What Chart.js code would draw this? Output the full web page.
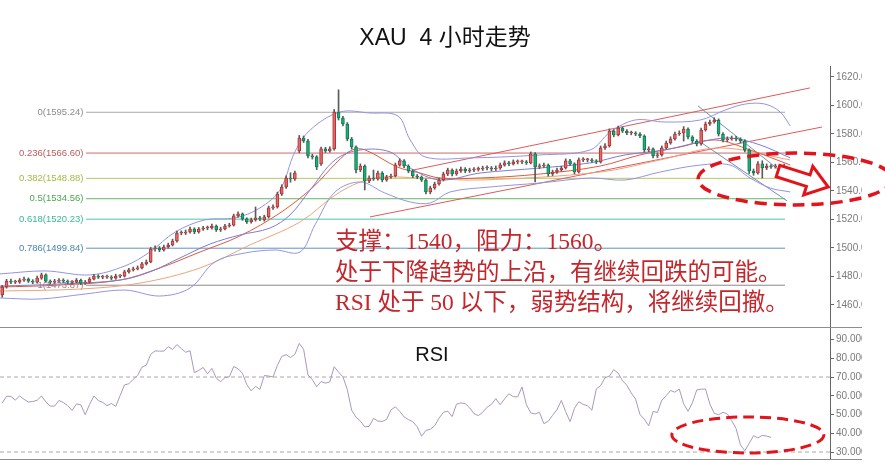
<!DOCTYPE html>
<html>
<head>
<meta charset="utf-8">
<script src="https://cdn.jsdelivr.net/npm/chart.js@4.4.1/dist/chart.umd.min.js"></script>
<style>
  html, body { margin: 0; padding: 0; background: #fff; }
  canvas { display: block; }
</style>
</head>
<body>
<canvas id="xau" width="885" height="476"></canvas>
<script>
// 4H candles (price)
var opens = [
  1467.0,1472.6,1476.8,1476.1,1476.1,1477.5,1478.2,1476.8,1476.1,1478.9,
  1481.1,1476.8,1476.1,1476.8,1477.5,1476.8,1476.1,1476.1,1477.5,1475.4,
  1476.1,1478.2,1480.3,1479.6,1479.6,1479.6,1478.9,1480.3,1480.3,1483.2,
  1484.6,1485.3,1486.0,1488.8,1490.2,1499.3,1500.0,1498.6,1500.7,1502.1,
  1504.9,1510.5,1510.5,1511.2,1513.3,1511.2,1513.3,1514.0,1514.0,1515.4,
  1512.6,1513.3,1515.4,1516.1,1522.5,1523.9,1520.4,1518.3,1519.7,1521.1,
  1519.7,1521.8,1528.1,1528.8,1537.9,1542.8,1549.1,1548.4,1568.1,1577.2,
  1575.1,1564.6,1563.9,1559.0,1569.5,1568.1,1569.5,1595.4,1591.2,1587.0,
  1576.5,1570.9,1554.7,1557.5,1547.0,1549.1,1548.4,1552.6,1547.7,1549.8,
  1550.5,1558.2,1561.1,1557.5,1554.0,1550.5,1549.8,1547.7,1539.3,1542.1,
  1544.9,1547.7,1551.9,1554.7,1551.9,1554.0,1555.4,1554.0,1554.7,1555.2,
  1555.4,1556.1,1556.1,1555.4,1556.1,1558.2,1559.7,1559.0,1560.4,1560.4,
  1560.4,1559.7,1566.0,1556.9,1557.5,1558.2,1551.9,1553.3,1554.7,1556.1,
  1561.1,1559.0,1553.3,1561.8,1561.8,1561.8,1561.1,1560.4,1570.2,1571.6,
  1582.1,1579.3,1584.2,1582.1,1580.7,1580.7,1580.0,1578.6,1568.8,1569.5,
  1564.6,1565.3,1570.2,1573.7,1576.5,1580.0,1580.7,1583.5,1577.9,1575.1,
  1573.0,1582.8,1587.0,1588.4,1589.8,1580.0,1575.8,1576.5,1577.2,1576.5,
  1575.1,1568.8,1554.0,1552.6,1559.0,1556.1,1557.5,1556.9,1557.5,1556.9
];
var closes = [
  1472.6,1476.8,1476.1,1476.1,1477.5,1478.2,1476.8,1476.1,1478.9,1481.1,
  1476.8,1476.1,1476.8,1477.5,1476.8,1476.1,1476.1,1477.5,1475.4,1476.1,
  1478.2,1480.3,1479.6,1479.6,1479.6,1478.9,1480.3,1480.3,1483.2,1484.6,
  1485.3,1486.0,1488.8,1490.2,1499.3,1500.0,1498.6,1500.7,1502.1,1504.9,
  1510.5,1510.5,1511.2,1513.3,1511.2,1513.3,1514.0,1514.0,1515.4,1512.6,
  1513.3,1515.4,1516.1,1522.5,1523.9,1520.4,1518.3,1519.7,1521.1,1520.4,
  1521.8,1528.1,1528.8,1537.9,1542.8,1549.1,1548.4,1552.6,1577.2,1575.1,
  1564.6,1563.9,1556.9,1569.5,1568.1,1569.5,1595.4,1591.2,1587.0,1576.5,
  1570.9,1554.7,1557.5,1547.0,1549.1,1548.4,1552.6,1547.7,1549.8,1550.5,
  1558.2,1561.1,1557.5,1554.0,1550.5,1549.8,1547.7,1539.3,1542.1,1544.9,
  1547.7,1551.9,1554.7,1551.9,1554.0,1555.4,1554.0,1554.7,1555.2,1555.4,
  1556.1,1556.1,1555.4,1556.1,1558.2,1559.7,1559.0,1560.4,1560.4,1560.4,
  1559.7,1566.0,1556.9,1557.5,1558.2,1551.9,1553.3,1554.7,1556.1,1561.1,
  1559.0,1553.3,1561.8,1561.8,1561.8,1561.1,1560.4,1570.2,1571.6,1582.1,
  1579.3,1584.2,1582.1,1580.7,1580.7,1580.0,1578.6,1568.8,1569.5,1564.6,
  1565.3,1570.2,1573.7,1576.5,1580.0,1580.7,1583.5,1577.9,1575.1,1573.0,
  1582.8,1587.0,1588.4,1589.8,1580.0,1575.8,1576.5,1577.2,1576.5,1575.1,
  1568.8,1554.0,1552.6,1559.0,1556.1,1557.5,1556.9,1557.5,1556.9,1557.5
];
var highs = [
  1473.8,1478.0,1478.2,1477.4,1478.6,1479.6,1479.0,1477.8,1480.3,1482.4,
  1481.8,1477.6,1478.0,1478.6,1478.4,1477.6,1477.2,1478.6,1478.2,1477.2,
  1479.2,1481.6,1481.2,1480.8,1481.0,1480.6,1481.6,1481.4,1484.4,1485.8,
  1486.6,1487.4,1490.0,1491.6,1500.4,1501.6,1501.0,1502.0,1503.4,1506.2,
  1511.8,1512.0,1512.6,1514.6,1514.2,1514.4,1515.2,1515.4,1516.8,1516.2,
  1514.6,1516.6,1517.4,1523.8,1525.4,1524.6,1521.2,1521.0,1528.8,1522.2,
  1523.0,1529.4,1530.2,1539.2,1544.4,1550.6,1552.8,1554.0,1579.0,1578.6,
  1576.2,1565.8,1564.8,1570.8,1570.6,1571.0,1597.2,1611.0,1592.4,1588.0,
  1577.6,1571.6,1559.0,1558.4,1550.6,1554.7,1554.0,1553.6,1551.0,1551.8,
  1559.6,1562.6,1562.0,1558.4,1555.0,1551.6,1550.6,1548.6,1543.4,1546.2,
  1549.0,1553.2,1556.0,1555.6,1555.4,1556.8,1556.4,1556.0,1556.4,1556.8,
  1557.4,1557.6,1557.2,1557.6,1559.6,1561.2,1560.8,1561.8,1561.8,1561.6,
  1561.4,1567.4,1567.0,1559.0,1559.6,1559.0,1554.6,1556.0,1557.4,1562.6,
  1562.2,1559.8,1563.2,1563.4,1563.0,1562.8,1562.0,1571.6,1573.2,1583.6,
  1583.0,1585.6,1585.0,1583.0,1582.0,1581.6,1581.0,1579.4,1571.0,1570.2,
  1566.8,1571.6,1575.0,1578.0,1581.4,1582.2,1585.2,1584.4,1578.8,1576.0,
  1584.2,1588.4,1589.8,1591.4,1590.6,1581.0,1578.0,1578.6,1578.4,1577.4,
  1576.0,1569.6,1555.4,1560.6,1561.2,1559.0,1558.6,1558.8,1558.6,1558.8
];
var lows = [
  1465.5,1471.8,1475.0,1475.0,1475.2,1476.6,1475.8,1475.0,1475.4,1478.0,
  1475.8,1474.8,1475.2,1476.0,1475.8,1475.0,1474.8,1475.4,1474.2,1474.4,
  1475.4,1477.6,1478.6,1478.4,1478.6,1477.8,1478.0,1479.2,1479.6,1482.4,
  1483.8,1484.6,1485.4,1488.0,1489.6,1497.8,1497.4,1497.8,1499.8,1501.4,
  1504.0,1509.2,1509.4,1510.4,1510.0,1510.4,1512.4,1512.8,1513.2,1511.6,
  1511.6,1512.6,1514.6,1515.4,1521.6,1519.4,1517.2,1517.4,1518.8,1519.2,
  1518.8,1521.0,1527.0,1528.0,1536.8,1541.8,1546.2,1547.4,1566.8,1574.0,
  1563.2,1562.4,1555.0,1558.0,1567.0,1567.2,1568.6,1589.8,1585.6,1575.2,
  1569.4,1552.6,1553.6,1540.7,1545.8,1547.4,1547.6,1546.4,1546.8,1548.8,
  1549.8,1557.4,1556.4,1552.8,1549.4,1548.6,1546.6,1537.9,1538.0,1541.2,
  1544.0,1547.0,1550.8,1550.6,1551.0,1553.0,1552.8,1553.0,1553.6,1554.0,
  1554.4,1554.8,1554.2,1554.4,1555.2,1557.4,1557.8,1558.2,1559.0,1559.2,
  1558.6,1559.0,1546.3,1555.6,1556.6,1550.4,1550.8,1552.4,1553.8,1555.4,
  1558.0,1552.0,1552.6,1560.6,1560.4,1560.0,1559.2,1559.6,1569.2,1570.8,
  1578.0,1578.6,1581.0,1579.6,1579.4,1578.8,1577.4,1567.4,1567.6,1563.2,
  1563.4,1564.4,1569.4,1572.8,1575.6,1579.0,1575.0,1576.6,1573.8,1571.6,
  1572.2,1582.0,1586.0,1587.6,1578.6,1574.4,1574.6,1575.6,1575.2,1573.8,
  1567.4,1552.2,1551.0,1551.8,1549.1,1555.0,1555.8,1556.0,1555.6,1556.2
];
// RSI, one value per candle
var rsi = [
  56.1,59.8,59.6,57.7,59.9,58.1,56.7,56.9,57.6,59.9,
  56.7,54.5,54.5,57.5,56.4,54.7,52.2,55.6,55.2,49.9,
  55.3,59.9,57.4,56.5,54.7,55.9,54.3,60.1,65.8,66.4,
  68.8,70.8,75.3,76.3,82.1,83.9,83.8,83.8,86.2,84.7,
  87.3,85.2,83.2,84.0,72.3,73.5,75.1,71.7,74.6,69.4,
  67.5,69.7,70.1,75.6,74.4,72.0,65.9,62.6,65.0,63.4,
  70.8,70.5,70.0,76.2,81.0,81.9,80.4,82.1,87.9,84.8,
  71.1,68.6,64.8,67.6,66.7,67.4,75.5,72.6,70.1,63.4,
  52.2,48.6,46.5,43.4,43.7,47.9,46.5,46.3,47.4,52.5,
  54.1,51.7,48.7,47.3,46.1,43.5,38.4,41.5,42.1,44.0,
  48.0,51.2,51.8,48.9,55.5,56.2,55.8,53.6,50.5,49.4,
  51.2,53.9,55.4,58.5,55.2,58.3,61.1,59.5,59.4,64.7,
  55.3,50.8,50.3,51.2,45.1,46.4,49.6,52.6,57.5,51.5,
  46.2,53.3,56.8,55.4,54.6,52.3,63.6,65.5,69.6,70.5,
  73.9,72.1,68.0,65.6,61.5,58.2,50.0,47.5,44.0,51.6,
  51.1,57.7,60.0,62.8,61.9,63.6,55.7,51.7,56.2,63.1,
  63.5,63.6,55.6,50.6,49.9,51.2,50.3,46.7,42.5,33.8,
  30.7,34.6,38.7,37.5,38.9,38.5,37.8,null,null,null
];

// indicator lines, read at key points [candle index, price]
var bbUpper = [[-0.5,1481.8],[9.8,1483.9],[20.1,1481.1],[28.1,1487.4],[33.8,1497.2],[39.6,1511.2],[46.4,1519.7],[53.3,1521.1],[59.0,1528.1],[63.6,1540.7],[67.0,1567.4],[70.5,1582.8],[77.3,1595.4],[84.2,1594.7],[90.6,1592.6],[93.4,1575.8],[96.8,1563.9],[107.1,1563.2],[123.1,1565.3],[134.6,1568.8],[139.2,1581.4],[144.9,1589.8],[151.7,1588.4],[159.8,1589.8],[165.5,1596.8],[170.1,1601.0],[174.6,1601.0],[178.1,1595.4],[180.4,1585.6]];
var bbMiddle = [[-0.5,1473.3],[13.2,1474.7],[27.0,1477.5],[33.8,1483.2],[40.7,1493.0],[47.6,1502.8],[54.4,1509.1],[61.3,1514.0],[65.9,1523.2],[70.5,1540.7],[76.2,1561.8],[82.0,1568.8],[88.8,1567.4],[93.4,1556.1],[100.2,1547.7],[109.4,1552.6],[123.1,1556.1],[134.6,1559.7],[142.6,1565.3],[151.7,1568.8],[159.8,1574.4],[166.6,1577.2],[173.5,1572.3],[180.4,1563.2]];
var bbLower = [[-0.5,1464.9],[8.7,1464.2],[19.0,1467.7],[28.1,1470.5],[36.1,1466.3],[43.0,1471.9],[48.7,1490.2],[55.6,1496.5],[62.5,1498.6],[68.2,1497.2],[71.6,1516.2],[76.2,1539.3],[82.0,1546.3],[87.6,1538.6],[93.4,1532.3],[98.0,1531.6],[102.5,1539.3],[111.7,1542.8],[123.1,1545.6],[134.6,1549.1],[142.6,1547.7],[150.6,1553.3],[159.8,1558.2],[166.6,1558.2],[171.2,1549.1],[175.8,1542.1],[180.4,1539.3]];
var maFast = [[-0.5,1472.6],[13.2,1474.0],[27.0,1477.5],[36.1,1486.0],[45.3,1497.2],[54.4,1508.4],[63.6,1524.6],[71.2,1542.8],[76.7,1560.4],[80.1,1568.8],[83.1,1568.8],[90.4,1556.9],[95.7,1552.6],[100.2,1549.1],[109.4,1549.1],[123.1,1551.9],[136.9,1557.5],[146.0,1565.3],[155.2,1570.9],[163.2,1575.8],[171.2,1568.8],[180.4,1558.2]];
var maSlow = [[-0.5,1469.8],[17.8,1471.2],[31.6,1475.4],[45.3,1486.0],[56.7,1502.1],[68.2,1518.3],[77.3,1539.3],[85.4,1549.1],[95.7,1549.1],[109.4,1547.7],[136.9,1553.3],[150.6,1561.8],[164.3,1570.2],[180.4,1561.8]];

// drawn trend lines [index, price] -> [index, price]
var channelUp = [[94.1,1554.7],[184.9,1612.3]];
var channelLow = [[84.2,1521.8],[187.7,1584.9]];
var fallUp = [[159.3,1599.6],[179.9,1549.8]];
var fallLow = [[159.8,1574.4],[179.7,1533.0]];

// fibonacci retracement
var fibRatios = ['0', '0.236', '0.382', '0.5', '0.618', '0.786', '1'];
var fibPrices = [1595.24, 1566.60, 1548.88, 1534.56, 1520.23, 1499.84, 1473.87];
var fibColors = ['#a8a8a8', '#c86a6a', '#b8c860', '#62b862', '#4cc8a8', '#5a94c4', '#8a8a8a'];
var fibTextColors = ['#8c8c8c', '#b85a5a', '#a8b840', '#4aa84a', '#38b898', '#4a84b4', '#8a8a8a'];
var fibFrom = 19.2, fibTo = 179.2, fibLabelAt = 18.6;

var priceTicks = [1460, 1480, 1500, 1520, 1540, 1560, 1580, 1600, 1620];
var rsiTicks = [30, 40, 50, 60, 70, 80, 90];
var rsiLevels = [70, 30];

var notes = ['支撑：1540，阻力：1560。', '处于下降趋势的上沿，有继续回跌的可能。', 'RSI 处于 50 以下，弱势结构，将继续回撤。'];

// marked areas in data units
var zoneMain = { cx: 181.5, cy: 1548.4, rx: 22.2, ry: 18.2 };
var zoneRsi = { cx: 170.7, cy: 39.1, rx: 17.4, ry: 9.6 };
var arrowFrom = [177.6, 1554.0], arrowTo = [189.1, 1542.8];

var sans = '"Liberation Sans", Arial, "Noto Sans CJK SC", sans-serif';

function pts(list) {
  return list.map(function (p) { return { x: p[0], y: p[1] }; });
}
function lineSet(data, color, extra) {
  return Object.assign({
    type: 'line', data: data, borderColor: color, borderWidth: 1,
    pointRadius: 0, fill: false, yAxisID: 'y', order: 2, tension: 0
  }, extra || {});
}

var upColor = '#e36a6a', upBorder = '#b03434';
var downColor = '#1fae78', downBorder = '#0f7a52';

var bodies = opens.map(function (o, i) { return { x: i, y: [o, closes[i]] }; });
var wicks = lows.map(function (l, i) { return { x: i, y: [l, highs[i]] }; });
var fills = opens.map(function (o, i) { return closes[i] >= o ? upColor : downColor; });
var edges = opens.map(function (o, i) { return closes[i] >= o ? upBorder : downBorder; });

var datasets = [
  { type: 'bar', data: bodies, backgroundColor: fills, borderColor: edges, borderWidth: 1,
    borderSkipped: false, barThickness: 3, minBarLength: 1, grouped: false, yAxisID: 'y', order: 0 },
  { type: 'bar', data: wicks, backgroundColor: '#5a5a5a', barThickness: 1, grouped: false, yAxisID: 'y', order: 1 },
  lineSet(pts(bbUpper), '#9494e0', { tension: 0.35 }),
  lineSet(pts(bbMiddle), '#7c7cd4', { tension: 0.35 }),
  lineSet(pts(bbLower), '#9494e0', { tension: 0.35 }),
  lineSet(pts(maFast), '#e0583e', { tension: 0.35 }),
  lineSet(pts(maSlow), '#f0a27a', { tension: 0.35 }),
  lineSet(pts(channelUp), '#e05a5a'),
  lineSet(pts(channelLow), '#e05a5a'),
  lineSet(pts(fallUp), '#6f8fae'),
  lineSet(pts(fallLow), '#6f8fae')
];
fibPrices.forEach(function (p, k) {
  datasets.push(lineSet([{ x: fibFrom, y: p }, { x: fibTo, y: p }], fibColors[k], { order: 3 }));
});
datasets.push({
  type: 'line', data: rsi.map(function (v, i) { return { x: i, y: v }; }), borderColor: '#a898bc',
  borderWidth: 1, pointRadius: 0, fill: false, yAxisID: 'yRsi', order: 1
});
rsiLevels.forEach(function (v) {
  datasets.push({
    type: 'line', data: [{ x: -0.5, y: v }, { x: 189.5, y: v }], borderColor: '#a8a8a8',
    borderWidth: 1, borderDash: [4, 3], pointRadius: 0, fill: false, yAxisID: 'yRsi', order: 3
  });
});

function ellipse(ctx, chart, z, yId) {
  var xs = chart.scales.x, ys = chart.scales[yId];
  var cx = xs.getPixelForValue(z.cx), cy = ys.getPixelForValue(z.cy);
  var rx = xs.getPixelForValue(z.cx + z.rx) - cx;
  var ry = cy - ys.getPixelForValue(z.cy + z.ry);
  ctx.beginPath();
  ctx.ellipse(cx, cy, rx, ry, 0, 0, Math.PI * 2);
  ctx.stroke();
}

var overlay = {
  id: 'overlay',
  beforeDatasetsDraw: function (chart) {
    var ctx = chart.ctx, xs = chart.scales.x, ys = chart.scales.y, rs = chart.scales.yRsi;
    ctx.save();
    // tick labels are cut off at the picture's edge
    ctx.fillStyle = '#fff';
    ctx.fillRect(862, 0, 30, chart.height);
    ctx.strokeStyle = '#8e8e8e';
    ctx.lineWidth = 1;
    [rs.top, rs.bottom].forEach(function (y) {
      var yy = Math.round(y) + 0.5;
      ctx.beginPath(); ctx.moveTo(0, yy); ctx.lineTo(862, yy); ctx.stroke();
    });
    // fibonacci labels
    ctx.font = '9.5px ' + sans;
    ctx.textAlign = 'right';
    ctx.textBaseline = 'middle';
    var lx = xs.getPixelForValue(fibLabelAt);
    fibPrices.forEach(function (p, k) {
      ctx.fillStyle = fibTextColors[k];
      ctx.fillText(fibRatios[k] + '(' + p.toFixed(2) + ')', lx, ys.getPixelForValue(p));
    });
    ctx.restore();
  },
  afterDraw: function (chart) {
    var ctx = chart.ctx, xs = chart.scales.x, ys = chart.scales.y;
    ctx.save();
    // title
    ctx.fillStyle = '#111';
    ctx.font = '23px ' + sans;
    ctx.textAlign = 'center';
    ctx.textBaseline = 'middle';
    ctx.fillText('XAU  4 小时走势', 445, 39);
    ctx.font = '20px ' + sans;
    ctx.fillText('RSI', 432, 355);
    // comment
    ctx.fillStyle = '#c3262b';
    ctx.font = '23.5px "Liberation Serif", "Noto Sans CJK SC", serif';
    ctx.textAlign = 'left';
    ctx.fillText(notes[0], 335, 243);
    ctx.fillText(notes[1], 335, 273.5);
    ctx.fillText(notes[2], 335, 304);
    // dashed rings
    ctx.strokeStyle = '#e3131b';
    ctx.lineWidth = 3.5;
    ctx.setLineDash([12, 7]);
    ellipse(ctx, chart, zoneMain, 'y');
    ctx.lineWidth = 3;
    ctx.setLineDash([11, 6]);
    ellipse(ctx, chart, zoneRsi, 'yRsi');
    ctx.setLineDash([]);
    // hollow arrow
    var x0 = xs.getPixelForValue(arrowFrom[0]), y0 = ys.getPixelForValue(arrowFrom[1]);
    var x1 = xs.getPixelForValue(arrowTo[0]), y1 = ys.getPixelForValue(arrowTo[1]);
    var len = Math.hypot(x1 - x0, y1 - y0), ux = (x1 - x0) / len, uy = (y1 - y0) / len;
    var nx = -uy, ny = ux, w1 = 6, w2 = 15, h = 21;
    var bx = x1 - ux * h, by = y1 - uy * h;
    ctx.beginPath();
    ctx.moveTo(x0 + nx * w1, y0 + ny * w1);
    ctx.lineTo(bx + nx * w1, by + ny * w1);
    ctx.lineTo(bx + nx * w2, by + ny * w2);
    ctx.lineTo(x1, y1);
    ctx.lineTo(bx - nx * w2, by - ny * w2);
    ctx.lineTo(bx - nx * w1, by - ny * w1);
    ctx.lineTo(x0 - nx * w1, y0 - ny * w1);
    ctx.closePath();
    ctx.fillStyle = '#fff';
    ctx.fill();
    ctx.lineWidth = 3;
    ctx.lineJoin = 'miter';
    ctx.stroke();
    ctx.restore();
  }
};

function axis(min, max, weight, ticks, digits) {
  return {
    axis: 'y', position: 'right', stack: 'panes', stackWeight: weight, min: min, max: max, beginAtZero: false,
    grid: { drawOnChartArea: false, tickLength: 4, color: '#666' },
    border: { display: true, color: '#666' },
    ticks: { color: '#7a7a7a', padding: 2, autoSkip: false, font: { size: 10, family: sans },
      callback: function (v) { return Number(v).toFixed(digits); } },
    afterBuildTicks: function (s) { s.ticks = ticks.map(function (v) { return { value: v }; }); },
    afterFit: function (s) { s.width = 55; }
  };
}

new Chart(document.getElementById('xau').getContext('2d'), {
  type: 'bar',
  data: { datasets: datasets },
  options: {
    responsive: false,
    animation: false,
    devicePixelRatio: 1,
    layout: { padding: { top: 66, bottom: 17, left: 0, right: 0 } },
    plugins: { legend: { display: false }, tooltip: { enabled: false }, title: { display: false } },
    scales: {
      x: { type: 'linear', display: false, min: -0.5, max: 189.5, offset: false },
      y: axis(1444.56, 1627.7, 261, priceTicks, 2),
      yRsi: axis(26.27, 96.67, 132, rsiTicks, 4)
    }
  },
  plugins: [overlay]
});
</script>
</body>
</html>
